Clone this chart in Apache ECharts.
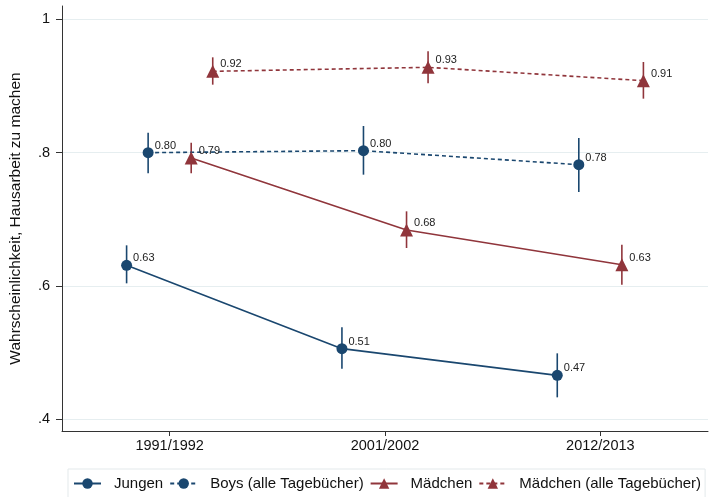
<!DOCTYPE html>
<html>
<head>
<meta charset="utf-8">
<script src="https://cdn.jsdelivr.net/npm/echarts@6/dist/echarts.min.js"></script>
<style>
  html, body { margin: 0; padding: 0; background: #fff; }
  #chart { width: 717px; height: 497px; }
</style>
</head>
<body>
<div id="chart"></div>
<script>
// Survey waves on the x axis
const categories = ['1991/1992', '2001/2002', '2012/2013'];

// Predicted probabilities with 95% confidence bounds
const jungen = [0.631, 0.506, 0.466];
const jungenLo = [0.604, 0.476, 0.433];
const jungenHi = [0.661, 0.538, 0.499];

const boysAlle = [0.800, 0.803, 0.782];
const boysAlleLo = [0.769, 0.767, 0.741];
const boysAlleHi = [0.830, 0.840, 0.822];

const maedchen = [0.792, 0.684, 0.632];
const maedchenLo = [0.769, 0.657, 0.602];
const maedchenHi = [0.815, 0.712, 0.662];

const maedchenAlle = [0.922, 0.928, 0.908];
const maedchenAlleLo = [0.902, 0.904, 0.881];
const maedchenAlleHi = [0.943, 0.952, 0.936];

const yTicks = [0.4, 0.6, 0.8, 1];

const NAVY = '#1a476f';
const MAROON = '#90353b';
const FONT = 'Liberation Sans, Arial, Helvetica, sans-serif';

// Horizontal dodge of each group around its wave position
const dodge = { jungen: -0.2, boys: -0.1, maedchen: 0.1, maedchenAlle: 0.2 };

function points(vals, shift) {
  return vals.map((v, i) => [i + 1 + shift, v]);
}
function ranges(lo, hi, shift) {
  return lo.map((l, i) => [i + 1 + shift, l, hi[i]]);
}

function lineSeries(name, vals, shift, color, dashed, symbol, symbolSize) {
  return {
    name: name,
    type: 'line',
    data: points(vals, shift),
    symbol: symbol,
    symbolSize: symbolSize,
    z: 3,
    lineStyle: { color: color, width: 1.6, type: dashed ? [4, 3] : 'solid' },
    itemStyle: { color: color },
    label: {
      show: true,
      position: 'right',
      distance: 1,
      offset: [0, -7],
      fontFamily: FONT,
      fontSize: 11,
      color: '#222',
      formatter: p => p.value[1].toFixed(2)
    },
    emphasis: { disabled: true }
  };
}

function ciSeries(lo, hi, shift, color) {
  return {
    type: 'custom',
    data: ranges(lo, hi, shift),
    z: 2,
    silent: true,
    renderItem: function (params, api) {
      const a = api.coord([api.value(0), api.value(1)]);
      const b = api.coord([api.value(0), api.value(2)]);
      return {
        type: 'line',
        shape: { x1: a[0], y1: a[1], x2: b[0], y2: b[1] },
        style: { stroke: color, lineWidth: 1.6 }
      };
    }
  };
}

const chart = echarts.init(document.getElementById('chart'), null, { renderer: 'canvas' });

chart.setOption({
  animation: false,
  backgroundColor: '#fff',
  grid: { left: 62, right: 9, top: 6, bottom: 66, containLabel: false },
  xAxis: {
    type: 'value',
    min: 0.5,
    max: 3.5,
    axisLine: { show: true, lineStyle: { color: '#333', width: 1 } },
    axisTick: { show: true, length: 5, lineStyle: { color: '#333' }, customValues: [1, 2, 3] },
    axisLabel: {
      customValues: [1, 2, 3],
      formatter: v => categories[Math.round(v) - 1] || '',
      fontFamily: FONT, fontSize: 14.5, color: '#111', margin: 7
    },
    splitLine: { show: false }
  },
  yAxis: {
    type: 'value',
    min: 0.3825,
    max: 1.02,
    name: 'Wahrscheinlichkeit, Hausarbeit zu machen',
    nameLocation: 'middle',
    nameGap: 38,
    nameTextStyle: { fontFamily: FONT, fontSize: 15.5, color: '#111' },
    axisLine: { show: true, lineStyle: { color: '#333', width: 1 } },
    axisTick: { show: true, length: 6, lineStyle: { color: '#333' }, customValues: yTicks },
    axisLabel: {
      customValues: yTicks,
      formatter: v => (Math.abs(v - 1) < 1e-9 ? '1' : v.toFixed(1).replace(/^0/, '')),
      fontFamily: FONT, fontSize: 14.5, color: '#111', margin: 12
    },
    splitLine: { show: true, lineStyle: { color: '#e6eef0', width: 1 } }
  },
  legend: {
    data: ['Jungen', 'Boys (alle Tagebücher)', 'Mädchen', 'Mädchen (alle Tagebücher)'],
    left: 68,
    top: 469,
    orient: 'horizontal',
    padding: [7, 4, 20, 5],
    itemGap: 6,
    itemWidth: 27,
    itemHeight: 13,
    borderColor: '#e3e9eb',
    borderWidth: 1,
    textStyle: { fontFamily: FONT, fontSize: 15, color: '#111', padding: [0, 0, 0, 8] }
  },
  series: [
    ciSeries(jungenLo, jungenHi, dodge.jungen, NAVY),
    ciSeries(boysAlleLo, boysAlleHi, dodge.boys, NAVY),
    ciSeries(maedchenLo, maedchenHi, dodge.maedchen, MAROON),
    ciSeries(maedchenAlleLo, maedchenAlleHi, dodge.maedchenAlle, MAROON),
    lineSeries('Jungen', jungen, dodge.jungen, NAVY, false, 'circle', 11),
    lineSeries('Boys (alle Tagebücher)', boysAlle, dodge.boys, NAVY, true, 'circle', 11),
    lineSeries('Mädchen', maedchen, dodge.maedchen, MAROON, false, 'triangle', 13),
    lineSeries('Mädchen (alle Tagebücher)', maedchenAlle, dodge.maedchenAlle, MAROON, true, 'triangle', 13)
  ]
});
</script>
</body>
</html>
